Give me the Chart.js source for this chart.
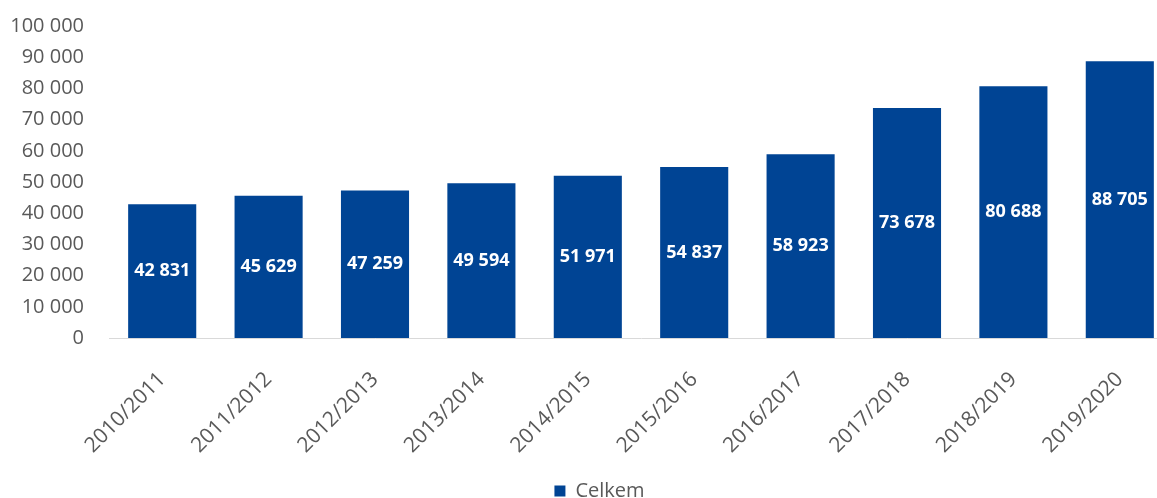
<!DOCTYPE html>
<html>
<head>
<meta charset="utf-8">
<script src="https://cdn.jsdelivr.net/npm/chart.js@4/dist/chart.umd.min.js"></script>
<style>
  html, body { margin: 0; padding: 0; background: #fff; overflow: hidden; }
  #wrap { width: 1200px; height: 511px; overflow: hidden; }
</style>
</head>
<body>
<div id="wrap"><canvas id="c" width="1200" height="511"></canvas></div>
<script>
const categories = ["2010/2011","2011/2012","2012/2013","2013/2014","2014/2015","2015/2016","2016/2017","2017/2018","2018/2019","2019/2020"];
const seriesName = "Celkem";
const values = [42831, 45629, 47259, 49594, 51971, 54837, 58923, 73678, 80688, 88705];
const yTicks = [0, 10000, 20000, 30000, 40000, 50000, 60000, 70000, 80000, 90000, 100000];

const fmt = v => String(v).replace(/\B(?=(\d{3})+(?!\d))/g, ' ');
const FONT = '"Open Sans", "DejaVu Sans", sans-serif';

const valueLabels = {
  id: 'valueLabels',
  afterDatasetsDraw(chart) {
    const ctx = chart.ctx;
    const meta = chart.getDatasetMeta(0);
    ctx.save();
    ctx.fillStyle = '#ffffff';
    ctx.font = 'bold 18px ' + FONT;
    ctx.textAlign = 'center';
    ctx.textBaseline = 'middle';
    meta.data.forEach((bar, i) => {
      const v = chart.data.datasets[0].data[i];
      ctx.fillText(fmt(v), bar.x, (bar.y + bar.base) / 2);
    });
    ctx.restore();
  }
};

const legendShift = {
  id: 'legendShift',
  afterLayout(chart) {
    if (chart.legend) { chart.legend.left += 13; chart.legend.right += 13; }
  }
};

new Chart(document.getElementById('c'), {
  type: 'bar',
  data: {
    labels: categories,
    datasets: [{
      label: seriesName,
      data: values,
      backgroundColor: '#004494',
      borderWidth: 0,
      categoryPercentage: 1,
      barPercentage: 0.64
    }]
  },
  options: {
    responsive: false,
    animation: false,
    layout: { padding: { top: 26, left: 0, right: 27, bottom: 0 } },
    plugins: {
      legend: {
        position: 'bottom',
        labels: {
          boxWidth: 11, boxHeight: 11, padding: 2,
          color: '#595959',
          font: { family: FONT, size: 20 }
        }
      },
      tooltip: { enabled: false }
    },
    scales: {
      x: {
        grid: { display: false, drawTicks: false },
        border: { display: true, color: '#d9d9d9', width: 1 },
        ticks: {
          color: '#595959',
          font: { family: FONT, size: 21 },
          minRotation: 45, maxRotation: 45,
          padding: 29
        },
        afterFit(s) { s.height = 141; s.paddingLeft = 0; s.paddingRight = 0; }
      },
      y: {
        min: 0, max: 100000,
        afterBuildTicks(s) { s.ticks = yTicks.map(v => ({ value: v })); },
        grid: { display: false, drawTicks: false },
        border: { display: false },
        ticks: {
          color: '#595959',
          font: { family: FONT, size: 20 },
          padding: 25,
          callback: v => fmt(v)
        },
        afterFit(s) { s.width = 109; s.paddingTop = 0; s.paddingBottom = 0; }
      }
    }
  },
  plugins: [valueLabels, legendShift]
});
</script>
</body>
</html>
